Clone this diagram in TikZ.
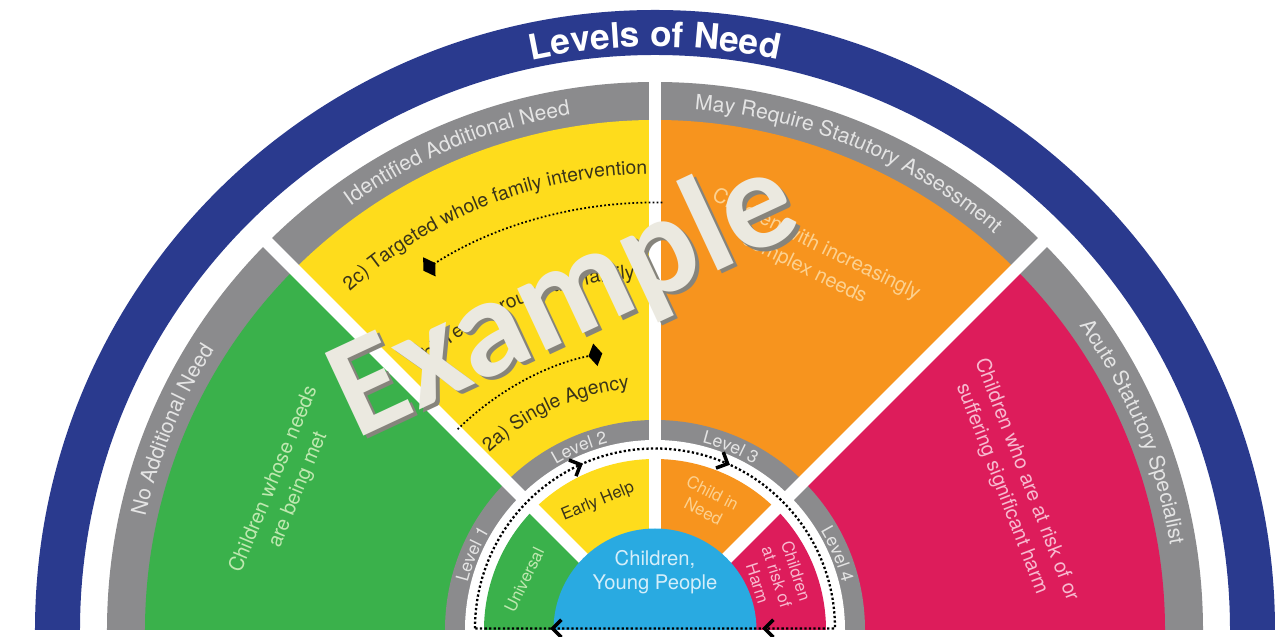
\documentclass[tikz,border=0pt]{standalone}
\usepackage{fontspec}
\setmainfont{TeX Gyre Heros}
\setsansfont{TeX Gyre Heros}
\newfontfamily\stampfont{Carlito}
\usetikzlibrary{arrows.meta}
\usetikzlibrary{decorations.text}
\usetikzlibrary{decorations.markings}

\definecolor{lvnavy}{HTML}{2A3A8E}
\definecolor{lvgrey}{HTML}{8B8B8D}
\definecolor{lvgreen}{HTML}{3AB14B}
\definecolor{lvyellow}{HTML}{FEDC1C}
\definecolor{lvorange}{HTML}{F7941E}
\definecolor{lvpink}{HTML}{DD1C5B}
\definecolor{lvsky}{HTML}{29AAE1}
\definecolor{lvlabel}{HTML}{E4E4E4}
\definecolor{greenink}{HTML}{BFE8B0}
\definecolor{orangeink}{HTML}{FCD190}
\definecolor{pinkink}{HTML}{F7B9CF}
\definecolor{skyink}{HTML}{D4EEFA}
\definecolor{darkink}{HTML}{3A3419}
\definecolor{stampface}{HTML}{EBE9E0}
\definecolor{stampshade}{HTML}{86847C}

\newcommand{\bandsize}{\fontsize{12}{14}\selectfont}
\newcommand{\levelsize}{\fontsize{10}{12}\selectfont}
\newcommand{\routesize}{\fontsize{11}{13}\selectfont}

\tikzset{
  gapline/.style={white, line width=0.25cm},
  bandlabel/.style={decorate, decoration={text along path, text align=center,
      text color=lvlabel, text={|\bandsize|#1}}},
  levellabel/.style={decorate, decoration={text along path, text align=center,
      text color=lvlabel, text={|\levelsize|#1}}},
  routelabel/.style={decorate, decoration={text along path, text align=center,
      text color=darkink, text={|\routesize|#1}}},
  sectortext/.style={align=center, font=\fontsize{11.5}{15}\selectfont, inner sep=0pt},
  innertext/.style={align=center, font=\fontsize{9.5}{11.5}\selectfont, inner sep=0pt},
  loopdots/.style={line width=1.3pt, dash pattern=on 1.3pt off 1.3pt},
  routedots/.style={line width=1pt, dash pattern=on 1pt off 1.3pt},
  loophead/.tip={Straight Barb[length=5pt,width=10pt,line width=2pt]},
  routehead/.tip={Diamond[length=8pt,width=13pt]},
}

\begin{document}
\begin{tikzpicture}
\useasboundingbox (-13.1,-0.14) rectangle (12.4,12.6);

% outer ring
\fill[lvnavy] (180:12.4) arc[start angle=180,end angle=0,radius=12.4]
  -- (0:11.5) arc[start angle=0,end angle=180,radius=11.5] -- cycle;
\path[decorate, decoration={text along path, text align=center, text color=white,
  text={|\fontsize{20}{24}\selectfont\bfseries|Levels of Need}}]
  (150:11.66) arc[start angle=150,end angle=30,radius=11.66];

% big sectors and their grey band
\fill[lvgrey] (0,0) -- (180:10.96) arc[start angle=180,end angle=0,radius=10.96] -- cycle;
\fill[lvgreen] (0,0) -- (180:10.2) arc[start angle=180,end angle=135,radius=10.2] -- cycle;
\fill[lvyellow] (0,0) -- (135:10.2) arc[start angle=135,end angle=90,radius=10.2] -- cycle;
\fill[lvorange] (0,0) -- (90:10.2) arc[start angle=90,end angle=45,radius=10.2] -- cycle;
\fill[lvpink] (0,0) -- (45:10.2) arc[start angle=45,end angle=0,radius=10.2] -- cycle;

% level ring
\fill[lvgrey] (0,0) -- (180:4.2) arc[start angle=180,end angle=0,radius=4.2] -- cycle;
\fill[white] (0,0) -- (180:3.8) arc[start angle=180,end angle=0,radius=3.8] -- cycle;
\fill[lvgreen] (0,0) -- (180:3.42) arc[start angle=180,end angle=135,radius=3.42] -- cycle;
\fill[lvyellow] (0,0) -- (135:3.42) arc[start angle=135,end angle=90,radius=3.42] -- cycle;
\fill[lvorange] (0,0) -- (90:3.42) arc[start angle=90,end angle=45,radius=3.42] -- cycle;
\fill[lvpink] (0,0) -- (45:3.42) arc[start angle=45,end angle=0,radius=3.42] -- cycle;

\draw[gapline] (0,0) -- (45:11.1);
\draw[gapline] (0,0) -- (90:11.1);
\draw[gapline] (0,0) -- (135:11.1);

\fill[lvsky] (180:2.03) arc[start angle=180,end angle=0,radius=2.03] -- cycle;

% band labels
\path[bandlabel={No Additional Need}] (180:10.44) arc[start angle=180,end angle=135,radius=10.44];
\path[bandlabel={Identified Additional Need}] (135:10.44) arc[start angle=135,end angle=90,radius=10.44];
\path[bandlabel={May Require Statutory Assessment}] (90:10.44) arc[start angle=90,end angle=45,radius=10.44];
\path[bandlabel={Acute Statutory Specialist}] (45:10.44) arc[start angle=45,end angle=0,radius=10.44];

\path[levellabel={Level 1}] (180:3.86) arc[start angle=180,end angle=135,radius=3.86];
\path[levellabel={Level 2}] (135:3.86) arc[start angle=135,end angle=90,radius=3.86];
\path[levellabel={Level 3}] (90:3.86) arc[start angle=90,end angle=45,radius=3.86];
\path[levellabel={Level 4}] (45:3.86) arc[start angle=45,end angle=0,radius=3.86];

% routes through level 2
\path[routelabel={2c) Targeted whole family intervention}] (133:9.12) arc[start angle=133,end angle=90,radius=9.12];
\path[routelabel={2b) Team around the family}] (135:7.04) arc[start angle=135,end angle=90,radius=7.04];
\path[routelabel={2a) Single Agency}] (137:4.86) arc[start angle=137,end angle=92,radius=4.86];
\draw[routedots, -routehead] (89:8.55) arc[start angle=89,end angle=122.8,radius=8.55];
\draw[routedots, -routehead] (134.5:5.63) arc[start angle=134.5,end angle=100.8,radius=5.63];

% sector texts
\node[sectortext, text=greenink, rotate=67.5] (metText) at (158.5:7.93) {Children whose needs\\are being met};
\node[sectortext, text=orangeink, rotate=-26] (complexText) at (67.4:8.08) {Children with increasingly\\complex needs};
\node[sectortext, text=pinkink, rotate=-69] (harmText) at (22.1:7.75) {Children who are at risk of or\\suffering significant harm};

\node[innertext, text=greenink, rotate=64] (universal) at (159:2.8) {Universal};
\node[innertext, text=darkink, rotate=22.5] (earlyHelp) at (114:2.8) {Early Help};
\node[innertext, text=orangeink, rotate=-27] (childNeed) at (67.5:2.77) {Child in\\Need};
\node[innertext, text=pinkink, rotate=-72] (atRisk) at (23.5:2.66) {Children\\at risk of\\Harm};
\node[align=center, text=skyink, font=\fontsize{11.5}{14}\selectfont] (young) at (0,1.16) {Children,\\Young People};

% pathway loop
\draw[loopdots, postaction={decorate}, decoration={markings,
    mark=at position 4.17cm with {\arrow{loophead}},
    mark=at position 7.2cm with {\arrow{loophead}},
    mark=at position 12.77cm with {\arrow{loophead}},
    mark=at position 17.01cm with {\arrow{loophead}}}]
  (-3.6,0.03) arc[start angle=180,end angle=0,radius=3.6] -- cycle;

% watermark
\node[text=stampshade, rotate=25, font={\fontsize{80}{90}\stampfont\bfseries}] (stampShade) at (-1.72,6.53) {Example};
\node[text=stampface, rotate=25, font={\fontsize{80}{90}\stampfont\bfseries}] (stamp) at (-1.8,6.6) {Example};
\end{tikzpicture}
\end{document}
